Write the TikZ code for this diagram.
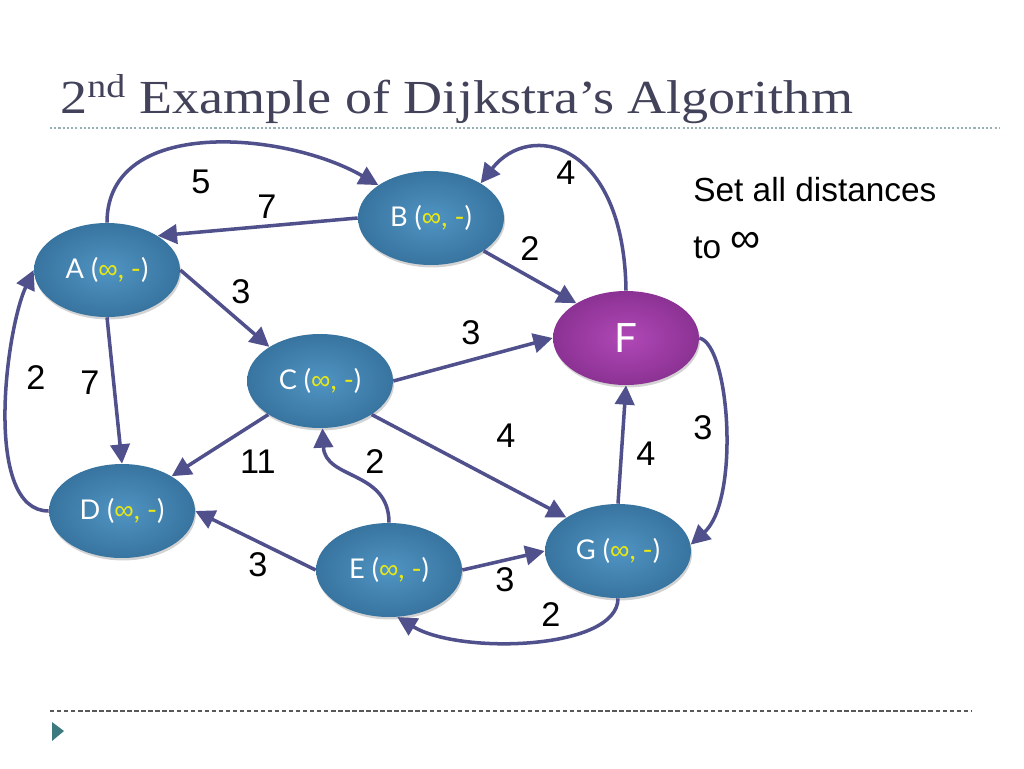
\documentclass[tikz,border=0pt]{standalone}
\usepackage{fontspec}
\setmainfont{Liberation Serif}
\setsansfont{Liberation Sans}
\newfontfamily\titlefont[FakeStretch=1.14]{Liberation Serif}
\newfontfamily\nodefont{Lato}
\newfontfamily\inffont{Liberation Sans}
\usepackage{tikz}
\usetikzlibrary{arrows.meta,shapes.geometric,shadows,positioning}
\definecolor{edgeblue}{RGB}{80,80,140}
\definecolor{titlegray}{RGB}{66,66,90}
\definecolor{infyellow}{RGB}{232,232,20}
\definecolor{nodein}{RGB}{80,148,194}
\definecolor{nodeout}{RGB}{56,116,160}
\definecolor{fin}{RGB}{176,72,182}
\definecolor{fout}{RGB}{140,50,148}
\definecolor{rulegray}{RGB}{150,178,180}
\definecolor{bullet}{RGB}{60,122,128}
\newcommand{\noDist}{(\textcolor{infyellow}{{\inffont ∞}, -})}

\tikzset{
  vertex/.style={ellipse, minimum width=2.92cm, minimum height=1.88cm, inner sep=0pt,
    inner color=nodein, outer color=nodeout, text=white,
    font=\nodefont\fontsize{15.5}{17}\selectfont,
    drop shadow={opacity=0.35, shadow xshift=0.6pt, shadow yshift=-1.4pt}},
  target/.style={vertex, inner color=fin, outer color=fout,
    font=\nodefont\fontsize{23}{25}\selectfont},
  edge/.style={draw=edgeblue, line width=2pt,
    -{Triangle[length=11pt, width=11pt]}},
  weight/.style={font=\sffamily\fontsize{19.5}{22}\selectfont, inner sep=0pt}
}

\begin{document}
\begin{tikzpicture}[x=0.02cm, y=-0.02cm]
        \useasboundingbox (0,0) rectangle (1024,768);
        % Title and rules
        \node[anchor=base west, text=titlegray, inner sep=0pt,
          font=\titlefont\fontsize{27}{30}\selectfont] (title) at (60,113)
          {2\textsuperscript{nd} Example of Dijkstra’s Algorithm};
        \draw[rulegray, line width=0.8pt, dash pattern=on 1.2pt off 1.2pt] (50,128) -- (1000,128);
        \draw[gray!70!black, line width=0.6pt, dash pattern=on 2.5pt off 1.5pt] (50,711) -- (972,711);
        \fill[bullet] (52,722) -- (64,731) -- (52,741) -- cycle;
        % Vertices
        \node[vertex] (A) at (107,270) {A \noDist};
        \node[vertex] (B) at (431,218) {B \noDist};
        \node[vertex] (C) at (320,381) {C \noDist};
        \node[vertex] (D) at (122,511) {D \noDist};
        \node[vertex] (E) at (389,570) {E \noDist};
        \node[vertex] (G) at (618,551) {G \noDist};
        \node[target] (F) at (626,338) {F};
        % Straight edges
        \draw[edge] (B.west) -- (A.34);
        \draw[edge] (A.east) -- (C.146);
        \draw[edge] (A.south) -- (D.north);
        \draw[edge] (B.-32) -- (F.145);
        \draw[edge] (C.east) -- (F.west);
        \draw[edge] (C.-33) -- (G.147);
        \draw[edge] (C.213) -- (D.35);
        \draw[edge] (E.west) -- (D.east);
        \draw[edge] (E.east) -- (G.west);
        \draw[edge] (G.north) -- (F.south);
        % Curved edges
        \draw[edge] (A.north) to[out=90, in=150] (B.148);
        \draw[edge] (D.west) to[out=180, in=245, looseness=0.7] (A.west);
        \draw[edge] (F.north) .. controls (624,142) and (530,120) .. (B.35);
        \draw[edge] (E.north) .. controls (389,470) and (325,480) .. (C.-87);
        \draw[edge] (G.south) .. controls (618,650) and (460,655) .. (E.-80);
        \draw[edge] (F.east) .. controls (730,345) and (740,500) .. (G.5);
        % Weights
        \node[weight] (wab) at (201,182) {5};
        \node[weight] (wba) at (267,207) {7};
        \node[weight] (wfb) at (566,173) {4};
        \node[weight] (wbf) at (530,249) {2};
        \node[weight] (wac) at (241,292) {3};
        \node[weight] (wcf) at (471,333) {3};
        \node[weight] (wda) at (36,378) {2};
        \node[weight] (wad) at (90,383) {7};
        \node[weight] (wcg) at (506,436) {4};
        \node[weight] (wfg) at (703,428) {3};
        \node[weight] (wcd) at (258,462) {11};
        \node[weight] (wec) at (375,462) {2};
        \node[weight] (wgf) at (646,454) {4};
        \node[weight] (wed) at (258,565) {3};
        \node[weight] (weg) at (505,580) {3};
        \node[weight] (wge) at (551,615) {2};
        % Note
        \node[anchor=base west, inner sep=0pt, font=\sffamily\fontsize{19}{22}\selectfont]
          (note) at (693,201) {Set all distances};
        \node[anchor=base west, inner sep=0pt, font=\sffamily\fontsize{19}{22}\selectfont]
          (noteinf) at (693,258) {to \raisebox{3pt}{\fontsize{24}{24}\selectfont ∞}};
\end{tikzpicture}
\end{document}
